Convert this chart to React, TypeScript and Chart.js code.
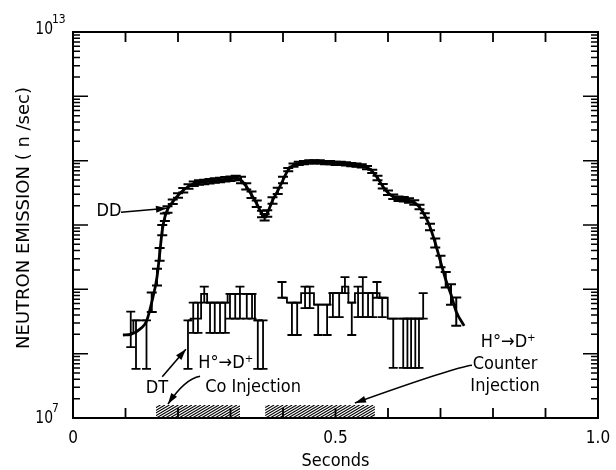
import React, { useEffect, useRef } from "react";
import { Chart, registerables } from "chart.js";

Chart.register(...registerables);

// ---------- DD neutron emission (time s, n/sec, error half-width in decades)
const ddTime = [
  0.095, 0.11, 0.13, 0.14, 0.15, 0.16, 0.165, 0.17, 0.175, 0.18,
  0.19, 0.2, 0.21, 0.22, 0.23, 0.24, 0.25, 0.26, 0.27, 0.28, 0.29, 0.3, 0.31,
  0.32, 0.33, 0.34, 0.35, 0.36, 0.365,
  0.37, 0.38, 0.39, 0.4, 0.41, 0.42, 0.43, 0.44, 0.45, 0.46, 0.47, 0.48, 0.49,
  0.5, 0.51, 0.52, 0.53, 0.54, 0.55, 0.56, 0.57, 0.58, 0.59, 0.6, 0.61, 0.62,
  0.63, 0.64, 0.65, 0.66, 0.67, 0.68, 0.69, 0.7, 0.71, 0.72, 0.73, 0.745,
];
const ddValue = [
  1.95e8, 2.0e8, 2.5e8, 3.2e8, 6.3e8, 1.55e9, 3.5e9, 8.3e9, 1.32e10, 1.74e10,
  2.29e10, 2.88e10, 3.47e10, 3.98e10, 4.37e10, 4.57e10, 4.68e10, 4.79e10, 4.9e10, 5.0e10, 5.13e10, 5.25e10, 5.37e10,
  5.0e10, 3.98e10, 2.95e10, 2.14e10, 1.48e10, 1.32e10,
  1.51e10, 2.4e10, 3.39e10, 5.0e10, 7.24e10, 8.5e10, 9.1e10, 9.3e10, 9.55e10, 9.55e10, 9.55e10, 9.3e10, 9.3e10,
  9.1e10, 9.1e10, 8.9e10, 8.7e10, 8.5e10, 8.3e10, 7.8e10, 6.8e10, 5.4e10, 4.0e10, 3.16e10, 2.75e10, 2.57e10,
  2.51e10, 2.4e10, 2.24e10, 1.9e10, 1.41e10, 9.3e9, 5.25e9, 2.7e9, 1.41e9, 8.3e8, 4.5e8, 2.7e8,
];
const ddErrDex = [
  0, 0, 0, 0, 0.15, 0.13, 0.1, 0.08, 0.06, 0.05,
  0.035, 0.035, 0.035, 0.035, 0.035, 0.035, 0.035, 0.035, 0.035, 0.035, 0.035, 0.035, 0.035,
  0.05, 0.05, 0.05, 0.05, 0.05, 0.05,
  0.05, 0.05, 0.05, 0.05, 0.025, 0.025, 0.025, 0.025, 0.025, 0.025, 0.025, 0.025, 0.025,
  0.025, 0.025, 0.025, 0.025, 0.025, 0.025, 0.025, 0.025, 0.035, 0.035, 0.035, 0.035, 0.035,
  0.035, 0.035, 0.035, 0.035, 0.035, 0.05, 0.07, 0.09, 0.12, 0.16, 0.22, 0,
];

// ---------- DT neutron emission bins (time s, value, lower, upper in n/sec)
const dtTime = [
  0.11, 0.12, 0.14, 0.17,
  0.219, 0.229, 0.238, 0.25, 0.261, 0.27, 0.28, 0.29, 0.299, 0.309, 0.318, 0.331, 0.341, 0.352, 0.362,
  0.38,
  0.398, 0.417, 0.427, 0.442, 0.451, 0.467, 0.484, 0.495, 0.507, 0.518, 0.531, 0.543, 0.552, 0.562,
  0.571, 0.579, 0.589, 0.61, 0.629, 0.637, 0.644, 0.652, 0.659, 0.667,
];
const dtValue = [
  2.1e8, 3.3e8, 3.3e8, null,
  3.3e8, 3.5e8, 3.5e8, 8.5e8, 6.2e8, 6.2e8, 6.2e8, 6.2e8, 8.5e8, 8.5e8, 8.5e8, 8.5e8, 8.5e8, 3.3e8, 3.3e8,
  null,
  7.4e8, 6.2e8, 6.2e8, 8.7e8, 8.7e8, 5.8e8, 5.8e8, 8.7e8, 8.7e8, 1.1e9, 6.2e8, 8.7e8, 8.7e8, 8.7e8,
  8.7e8, 8.7e8, 7.4e8, 3.5e8, 3.5e8, 3.5e8, 3.5e8, 3.5e8, 3.5e8, 3.5e8,
];
const dtLow = [
  1.26e8, 5.8e7, 5.8e7, null,
  5.8e7, 2.1e8, 2.1e8, 6.2e8, 2.1e8, 2.1e8, 2.1e8, 2.1e8, 3.5e8, 3.5e8, 3.5e8, 3.5e8, 3.5e8, 5.8e7, 5.8e7,
  null,
  7.4e8, 1.95e8, 1.95e8, 5.1e8, 5.1e8, 1.95e8, 1.95e8, 3.7e8, 3.7e8, 8.7e8, 1.95e8, 3.7e8, 3.7e8, 3.7e8,
  3.7e8, 7.4e8, 3.7e8, 6e7, 6e7, 6e7, 6e7, 6e7, 6e7, 3.5e8,
];
const dtHigh = [
  4.5e8, 3.3e8, 3.3e8, null,
  3.3e8, 6.2e8, 6.2e8, 1.1e9, 6.2e8, 6.2e8, 6.2e8, 6.2e8, 8.5e8, 8.5e8, 1.1e9, 8.5e8, 8.5e8, 3.3e8, 3.3e8,
  null,
  1.3e9, 6.2e8, 6.2e8, 1.1e9, 1.1e9, 5.8e8, 5.8e8, 8.7e8, 8.7e8, 1.55e9, 6.2e8, 1.1e9, 1.55e9, 8.7e8,
  8.7e8, 1.3e9, 7.4e8, 3.5e8, 3.5e8, 3.5e8, 3.5e8, 3.5e8, 3.5e8, 8.7e8,
];

// ---------- Neutral-beam injection intervals (s)
const injStart = [0.158, 0.366];
const injEnd = [0.318, 0.575];

// ---------- Axes
const xMin = 0;
const xMax = 1.0;
const yMin = 1e7;
const yMax = 1e13;
const xTickValues = [0.1, 0.2, 0.3, 0.4, 0.5, 0.6, 0.7, 0.8, 0.9];
const xTickLabelValues = [0, 0.5, 1.0];
const xTickLabels = ["0", "0.5", "1.0"];
const yDecadeExponents = [7, 8, 9, 10, 11, 12, 13];
const yLabelExponents = [7, 13];
const xTitle = "Seconds";
const yTitle = "NEUTRON EMISSION ( n /sec)";

// ---------- Annotations (placed in data coordinates)
const notes = [
  { text: "DD", t: 0.0686, v: 1.62e10 },
  { text: "DT", t: 0.16, v: 2.92e7 },
  { text: "H°→D⁺", t: 0.291, v: 7.16e7 },
  { text: "Co Injection", t: 0.343, v: 3.02e7 },
  { text: "H°→D⁺", t: 0.829, v: 1.51e8 },
  { text: "Counter", t: 0.823, v: 6.92e7 },
  { text: "Injection", t: 0.823, v: 3.16e7 },
];
const arrowFrom = [[0.0914, 1.58e10], [0.17, 4.37e7], [0.242, 4.47e7], [0.76, 6.6e7]];
const arrowVia = [null, null, [0.213, 4.07e7], [0.728, 6.17e7]];
const arrowTo = [[0.179, 1.82e10], [0.215, 1.17e8], [0.181, 1.65e7], [0.537, 1.71e7]];

const FONT = "'DejaVu Sans', sans-serif";

function scaledText(ctx: any, text: string, x: number, y: number, sx: number) {
  ctx.save();
  ctx.translate(x, y);
  ctx.scale(sx, 1);
  ctx.fillText(text, 0, 0);
  ctx.restore();
}

const paperPlugin = {
  id: "paper",
  afterDatasetsDraw(chart: any) {
    const { ctx, chartArea: a } = chart;
    const xs = chart.scales.x;
    const ys = chart.scales.y;
    const px = (t: number) => xs.getPixelForValue(t);
    const py = (v: number) => ys.getPixelForValue(v);
    ctx.save();
    ctx.strokeStyle = "#000";
    ctx.fillStyle = "#000";

    // hatched injection bars
    const hatchH = 13;
    for (let i = 0; i < injStart.length; i++) {
      const x1 = px(injStart[i]);
      const x2 = px(injEnd[i]);
      const yb = a.bottom;
      const yt = a.bottom - hatchH;
      ctx.save();
      ctx.beginPath();
      ctx.rect(x1, yt, x2 - x1, hatchH);
      ctx.clip();
      ctx.lineWidth = 1.1;
      ctx.beginPath();
      const dx = hatchH * 1.7;
      for (let k = x1 - dx; k < x2 + 2; k += 4.5) {
        ctx.moveTo(k, yb);
        ctx.lineTo(k + dx, yt);
      }
      ctx.stroke();
      ctx.restore();
    }

    // DD error bars
    ctx.lineWidth = 2;
    for (let i = 0; i < ddTime.length; i++) {
      const e = ddErrDex[i];
      if (!e) continue;
      const x = px(ddTime[i]);
      const f = Math.pow(10, e);
      const y1 = py(ddValue[i] * f);
      const y2 = py(ddValue[i] / f);
      ctx.beginPath();
      ctx.moveTo(x, y1);
      ctx.lineTo(x, y2);
      ctx.moveTo(x - 5, y1);
      ctx.lineTo(x + 5, y1);
      ctx.moveTo(x - 5, y2);
      ctx.lineTo(x + 5, y2);
      ctx.stroke();
    }

    // DT error bars
    ctx.lineWidth = 1.8;
    for (let i = 0; i < dtTime.length; i++) {
      const lo = dtLow[i];
      const hi = dtHigh[i];
      if (lo == null || hi == null) continue;
      const x = px(dtTime[i]);
      const y1 = py(hi);
      const y2 = py(lo);
      ctx.beginPath();
      ctx.moveTo(x, y1);
      ctx.lineTo(x, y2);
      ctx.moveTo(x - 4.5, y1);
      ctx.lineTo(x + 4.5, y1);
      ctx.moveTo(x - 4.5, y2);
      ctx.lineTo(x + 4.5, y2);
      ctx.stroke();
    }

    // frame
    ctx.lineWidth = 2;
    ctx.strokeRect(a.left, a.top, a.right - a.left, a.bottom - a.top);

    // x ticks (inward, bottom and top)
    ctx.lineWidth = 1.8;
    ctx.beginPath();
    for (const t of xTickValues) {
      const x = px(t);
      ctx.moveTo(x, a.bottom);
      ctx.lineTo(x, a.bottom - 10);
      ctx.moveTo(x, a.top);
      ctx.lineTo(x, a.top + 10);
    }
    ctx.stroke();

    // y ticks (log, inward, left and right)
    ctx.lineWidth = 1.5;
    ctx.beginPath();
    for (const ex of yDecadeExponents) {
      const base = Math.pow(10, ex);
      const y = py(base);
      if (ex !== 7 && ex !== 13) {
        ctx.moveTo(a.left, y);
        ctx.lineTo(a.left + 15, y);
        ctx.moveTo(a.right, y);
        ctx.lineTo(a.right - 15, y);
      }
      if (ex < 13) {
        for (let m = 2; m <= 9; m++) {
          const ym = py(base * m);
          ctx.moveTo(a.left, ym);
          ctx.lineTo(a.left + 7, ym);
          ctx.moveTo(a.right, ym);
          ctx.lineTo(a.right - 7, ym);
        }
      }
    }
    ctx.stroke();

    // x tick labels
    ctx.font = `17px ${FONT}`;
    ctx.textAlign = "center";
    ctx.textBaseline = "alphabetic";
    for (let i = 0; i < xTickLabels.length; i++) {
      scaledText(ctx, xTickLabels[i], px(xTickLabelValues[i]), a.bottom + 25, 0.9);
    }

    // y tick labels 10^n
    for (const ex of yLabelExponents) {
      const y = py(Math.pow(10, ex));
      const base = ex === 13 ? y + 2 : y + 5;
      ctx.font = `17px ${FONT}`;
      ctx.textAlign = "right";
      scaledText(ctx, "10", a.left - 20, base, 0.82);
      ctx.font = `12px ${FONT}`;
      ctx.textAlign = "left";
      scaledText(ctx, String(ex), a.left - 21, base - 11, 0.9);
    }

    // axis titles
    ctx.font = `18px ${FONT}`;
    ctx.textAlign = "center";
    scaledText(ctx, xTitle, (a.left + a.right) / 2, a.bottom + 48, 0.9);
    ctx.save();
    ctx.translate(24, (a.top + a.bottom) / 2 - 7);
    ctx.rotate(-Math.PI / 2);
    ctx.font = `18px ${FONT}`;
    ctx.textBaseline = "middle";
    ctx.fillText(yTitle, 0, 0);
    ctx.restore();

    // annotations
    ctx.font = `18px ${FONT}`;
    ctx.textAlign = "center";
    ctx.textBaseline = "middle";
    for (const n of notes) {
      scaledText(ctx, n.text, px(n.t), py(n.v), 0.9);
    }

    // arrows
    ctx.lineWidth = 1.6;
    for (let i = 0; i < arrowFrom.length; i++) {
      const x1 = px(arrowFrom[i][0]);
      const y1 = py(arrowFrom[i][1]);
      const x2 = px(arrowTo[i][0]);
      const y2 = py(arrowTo[i][1]);
      const via = arrowVia[i];
      let dxv: number, dyv: number;
      ctx.beginPath();
      ctx.moveTo(x1, y1);
      if (via) {
        const cx = px(via[0]);
        const cy = py(via[1]);
        ctx.quadraticCurveTo(cx, cy, x2, y2);
        dxv = x2 - cx;
        dyv = y2 - cy;
      } else {
        ctx.lineTo(x2, y2);
        dxv = x2 - x1;
        dyv = y2 - y1;
      }
      ctx.stroke();
      const L = Math.hypot(dxv, dyv) || 1;
      const ux = dxv / L;
      const uy = dyv / L;
      const hl = 11;
      const hw = 3.5;
      ctx.beginPath();
      ctx.moveTo(x2, y2);
      ctx.lineTo(x2 - ux * hl - uy * hw, y2 - uy * hl + ux * hw);
      ctx.lineTo(x2 - ux * hl + uy * hw, y2 - uy * hl - ux * hw);
      ctx.closePath();
      ctx.fill();
    }

    ctx.restore();
  },
};

export default function App() {
  const ref = useRef<HTMLCanvasElement>(null);
  useEffect(() => {
    const chart = new Chart(ref.current as HTMLCanvasElement, {
      type: "line",
      data: {
        datasets: [
          {
            label: "DD",
            data: ddTime.map((t, i) => ({ x: t, y: ddValue[i] })),
            borderColor: "#000",
            borderWidth: 2.8,
            pointRadius: 0,
            cubicInterpolationMode: "monotone",
            fill: false,
          },
          {
            label: "DT",
            data: dtTime.map((t, i) => ({ x: t, y: dtValue[i] as any })),
            borderColor: "#000",
            borderWidth: 1.8,
            pointRadius: 0,
            stepped: "middle",
            spanGaps: false,
            fill: false,
          },
        ],
      },
      options: {
        animation: false,
        responsive: false,
        devicePixelRatio: 1,
        layout: { padding: { left: 73, top: 32, right: 18, bottom: 52 } },
        plugins: { legend: { display: false }, tooltip: { enabled: false } },
        events: [],
        scales: {
          x: { type: "linear", min: xMin, max: xMax, display: false },
          y: { type: "logarithmic", min: yMin, max: yMax, display: false },
        },
      },
      plugins: [paperPlugin],
    } as any);
    return () => chart.destroy();
  }, []);
  return (
    <div style={{ position: "absolute", left: 0, top: 0, width: 616, height: 470, background: "#fff" }}>
      <canvas ref={ref} width={616} height={470} style={{ display: "block" }} />
    </div>
  );
}
